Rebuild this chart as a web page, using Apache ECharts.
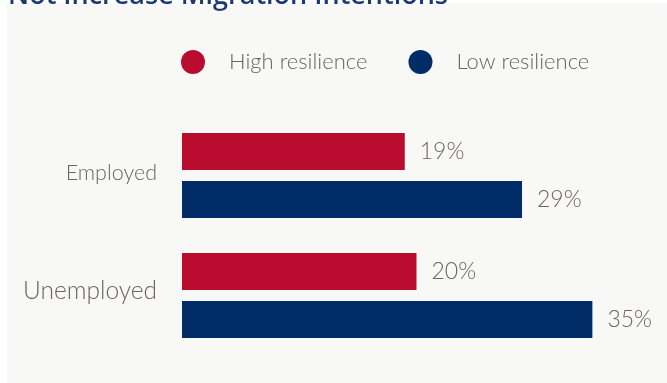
<!DOCTYPE html>
<html>
<head>
<meta charset="utf-8">
<script src="https://cdn.jsdelivr.net/npm/echarts@6/dist/echarts.min.js"></script>
<style>
  html, body { margin: 0; padding: 0; background: #ffffff; }
  #chart { width: 667px; height: 383px; }
</style>
</head>
<body>
<div id="chart"></div>
<script>
// Share who would not increase migration intentions, by employment and resilience
const categories = ['Employed', 'Unemployed'];
const seriesNames = ['High resilience', 'Low resilience'];
const highResilience = [19, 20];
const lowResilience = [29, 35];
const titleText = 'Not Increase Migration Intentions';

const RED = '#ba0c2f';
const NAVY = '#002d67';
const GREY_TEXT = '#6a6464';
const FONT = 'Lato, "Open Sans", sans-serif';

const chart = echarts.init(document.getElementById('chart'), null, { renderer: 'canvas' });

const valueLabel = {
  show: true,
  position: 'right',
  distance: 15,
  formatter: p => p.value + '%',
  color: GREY_TEXT,
  fontFamily: FONT,
  fontWeight: 300,
  fontSize: 23
};

chart.setOption({
  backgroundColor: '#ffffff',
  animation: false,
  graphic: [
    {
      type: 'rect',
      z: -10,
      shape: { x: 7, y: 3, width: 680, height: 400 },
      style: { fill: '#f8f8f6' }
    },
    {
      type: 'text',
      z: 10,
      x: 8,
      y: 10,
      style: {
        text: titleText,
        fill: '#1b3a6f',
        font: '600 27px "Open Sans", sans-serif',
        verticalAlign: 'bottom'
      }
    }
  ],
  legend: {
    data: seriesNames,
    left: 176,
    top: 45,
    icon: 'circle',
    itemWidth: 24,
    itemHeight: 24,
    itemGap: 41,
    textStyle: {
      color: GREY_TEXT,
      fontFamily: FONT,
      fontWeight: 300,
      fontSize: 22,
      padding: [0, 0, 0, 19]
    }
  },
  grid: {
    left: 182,
    right: 16,
    top: 115.5,
    height: 240,
    containLabel: false
  },
  xAxis: {
    type: 'value',
    min: 0,
    max: 40,
    show: false
  },
  yAxis: {
    type: 'category',
    data: categories,
    inverse: true,
    axisLine: { show: false },
    axisTick: { show: false },
    splitLine: { show: false },
    axisLabel: {
      margin: 25,
      color: GREY_TEXT,
      fontFamily: FONT,
      fontWeight: 300,
      formatter: v => v === 'Unemployed' ? '{big|' + v + '}' : '{small|' + v + '}',
      rich: {
        small: { fontSize: 21.5, color: GREY_TEXT, fontFamily: FONT, fontWeight: 300, padding: [0, 0, 4, 0] },
        big: { fontSize: 24.5, color: GREY_TEXT, fontFamily: FONT, fontWeight: 300, padding: [0, 0, 8, 0] }
      }
    }
  },
  series: [
    {
      name: seriesNames[0],
      type: 'bar',
      data: highResilience,
      barWidth: 37,
      barGap: '30%',
      itemStyle: { color: RED },
      label: valueLabel
    },
    {
      name: seriesNames[1],
      type: 'bar',
      data: lowResilience,
      barWidth: 37,
      barGap: '30%',
      itemStyle: { color: NAVY },
      label: valueLabel
    }
  ]
});
</script>
</body>
</html>
